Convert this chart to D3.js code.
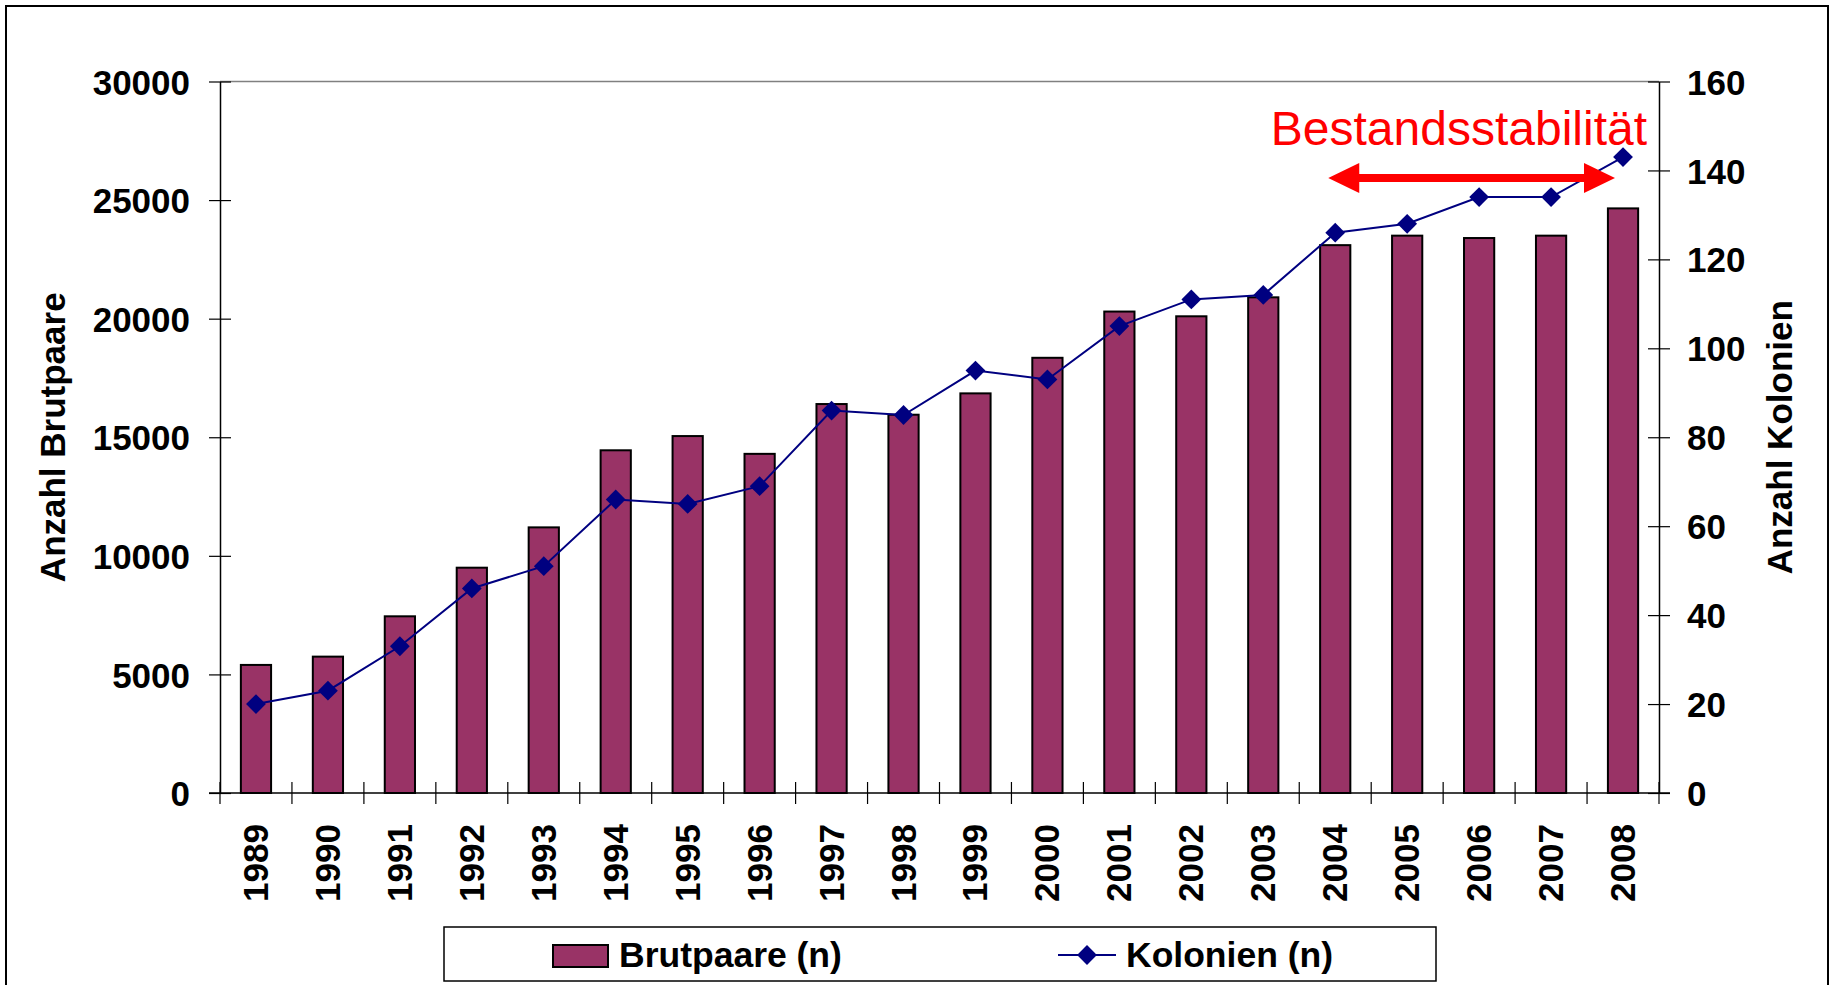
<!DOCTYPE html>
<html>
<head>
<meta charset="utf-8">
<script src="https://cdn.jsdelivr.net/npm/d3@7"></script>
<style>
  body { margin: 0; background: #fff; }
  text { font-family: "Liberation Sans", Arial, sans-serif; }
</style>
</head>
<body>
<svg id="chart" width="1833" height="985"></svg>
<script>
// data
const years = ["1989","1990","1991","1992","1993","1994","1995","1996","1997","1998",
               "1999","2000","2001","2002","2003","2004","2005","2006","2007","2008"];
const brutpaare = [5400, 5750, 7450, 9500, 11200, 14450, 15050, 14300, 16400, 15950,
                   16850, 18350, 20300, 20100, 20900, 23100, 23500, 23400, 23500, 24650];
const kolonien = [20, 23, 33, 46, 51, 66, 65, 69, 86, 85,
                  95, 93, 105, 111, 112, 126, 128, 134, 134, 143];
const leftTicks = [0, 5000, 10000, 15000, 20000, 25000, 30000];
const rightTicks = [0, 20, 40, 60, 80, 100, 120, 140, 160];
const stableFrom = "2004", stableTo = "2008";

const svg = d3.select('#chart');
const margin = { left: 220, top: 81.5, right: 174, bottom: 192 };
const width = 1833, height = 985;

// outer frame
svg.append('rect')
  .attr('x', 6).attr('y', 6)
  .attr('width', 1822).attr('height', 990)
  .attr('fill', 'none').attr('stroke', '#000').attr('stroke-width', 2);

const x = d3.scaleBand()
  .domain(years)
  .range([margin.left, width - margin.right]);

const yL = d3.scaleLinear()
  .domain([0, 30000])
  .range([height - margin.bottom, margin.top]);

const yR = d3.scaleLinear()
  .domain([0, 160])
  .range([height - margin.bottom, margin.top]);

// plot area top line
svg.append('line')
  .attr('x1', margin.left).attr('x2', width - margin.right)
  .attr('y1', margin.top).attr('y2', margin.top)
  .attr('stroke', '#808080').attr('stroke-width', 1.5);

// bars
const barW = x.bandwidth() * 0.42;
svg.append('g').selectAll('rect')
  .data(brutpaare)
  .join('rect')
    .attr('x', (d, i) => x(years[i]) + (x.bandwidth() - barW) / 2)
    .attr('y', d => yL(d))
    .attr('width', barW)
    .attr('height', d => yL(0) - yL(d))
    .attr('fill', '#993366')
    .attr('stroke', '#000')
    .attr('stroke-width', 2);

// axes
const tickStyle = g => {
  g.select('.domain').attr('stroke', '#000').attr('stroke-width', 1.5);
  g.selectAll('.tick line').attr('stroke', '#000').attr('stroke-width', 1.2);
  g.selectAll('text')
    .attr('font-size', 35).attr('font-weight', 'bold').attr('fill', '#000')
    .style('font-family', '"Liberation Sans", Arial, sans-serif');
};

const gl = svg.append('g')
  .attr('transform', `translate(${margin.left},0)`)
  .call(d3.axisLeft(yL).tickValues(leftTicks).tickFormat(d3.format('d')).tickSizeInner(11).tickSizeOuter(0).tickPadding(19))
  .call(tickStyle);
gl.selectAll('.tick line').attr('x2', 11).attr('x1', -11);

const gr = svg.append('g')
  .attr('transform', `translate(${width - margin.right},0)`)
  .call(d3.axisRight(yR).tickValues(rightTicks).tickSizeInner(11).tickSizeOuter(0).tickPadding(17))
  .call(tickStyle);
gr.selectAll('.tick line').attr('x1', -11).attr('x2', 11);
gl.selectAll('.tick text').attr('dy', '0.36em');
gr.selectAll('.tick text').attr('dy', '0.36em');

// x axis: line, ticks at band borders, rotated labels
const gx = svg.append('g').attr('transform', `translate(0,${height - margin.bottom})`);
gx.append('line')
  .attr('x1', margin.left - 11).attr('x2', width - margin.right + 11)
  .attr('stroke', '#000').attr('stroke-width', 1.5);
const borders = years.map(y => x(y)).concat([x(years[years.length - 1]) + x.bandwidth()]);
gx.selectAll('.xt')
  .data(borders)
  .join('line')
    .attr('class', 'xt')
    .attr('x1', d => d).attr('x2', d => d)
    .attr('y1', -11).attr('y2', 11)
    .attr('stroke', '#000').attr('stroke-width', 1.2);
gx.selectAll('.xl')
  .data(years)
  .join('text')
    .attr('class', 'xl')
    .attr('transform', d => `translate(${x(d) + x.bandwidth() / 2 + 12},31) rotate(-90)`)
    .attr('text-anchor', 'end')
    .attr('font-size', 35).attr('font-weight', 'bold')
    .text(d => d);

// line series
const line = d3.line()
  .x((d, i) => x(years[i]) + x.bandwidth() / 2)
  .y(d => yR(d));
svg.append('path')
  .datum(kolonien)
  .attr('d', line)
  .attr('fill', 'none')
  .attr('stroke', '#000080')
  .attr('stroke-width', 2);
const diamond = d3.symbol().type(d3.symbolDiamond2).size(250);
svg.append('g').selectAll('path')
  .data(kolonien)
  .join('path')
    .attr('transform', (d, i) => `translate(${x(years[i]) + x.bandwidth() / 2},${yR(d)})`)
    .attr('d', diamond)
    .attr('fill', '#000080');

// axis titles
svg.append('text')
  .attr('transform', `translate(${margin.left - 155},${(yL(0) + yL(30000)) / 2}) rotate(-90)`)
  .attr('text-anchor', 'middle')
  .attr('font-size', 35).attr('font-weight', 'bold')
  .text('Anzahl Brutpaare');
svg.append('text')
  .attr('transform', `translate(${width - margin.right + 133},${(yR(0) + yR(160)) / 2}) rotate(-90)`)
  .attr('text-anchor', 'middle')
  .attr('font-size', 35).attr('font-weight', 'bold')
  .text('Anzahl Kolonien');

// annotation: Bestandsstabilität with double arrow
const ax1 = x(stableFrom) + x.bandwidth() / 2 - 7;
const ax2 = x(stableTo) + x.bandwidth() / 2 - 8;
const ay = yR(138.3);
const head = 31, half = 15;
svg.append('line')
  .attr('x1', ax1 + head - 2).attr('x2', ax2 - head + 2)
  .attr('y1', ay).attr('y2', ay)
  .attr('stroke', '#ff0000').attr('stroke-width', 8);
svg.append('path')
  .attr('d', `M${ax1},${ay} L${ax1 + head},${ay - half} L${ax1 + head},${ay + half} Z`)
  .attr('fill', '#ff0000');
svg.append('path')
  .attr('d', `M${ax2},${ay} L${ax2 - head},${ay - half} L${ax2 - head},${ay + half} Z`)
  .attr('fill', '#ff0000');
svg.append('text')
  .attr('x', width - margin.right - 12)
  .attr('y', yR(145.7))
  .attr('text-anchor', 'end')
  .attr('font-size', 48)
  .attr('fill', '#ff0000')
  .text('Bestandsstabilität');

// legend
const lg = svg.append('g');
lg.append('rect')
  .attr('x', 444).attr('y', 927)
  .attr('width', 992).attr('height', 54)
  .attr('fill', '#fff').attr('stroke', '#000').attr('stroke-width', 1.5);
lg.append('rect')
  .attr('x', 553).attr('y', 945)
  .attr('width', 55).attr('height', 22)
  .attr('fill', '#993366').attr('stroke', '#000').attr('stroke-width', 2);
lg.append('text')
  .attr('x', 619).attr('y', 967)
  .attr('font-size', 35.5).attr('font-weight', 'bold')
  .text('Brutpaare (n)');
lg.append('line')
  .attr('x1', 1058).attr('x2', 1116)
  .attr('y1', 955).attr('y2', 955)
  .attr('stroke', '#000080').attr('stroke-width', 2);
lg.append('path')
  .attr('transform', 'translate(1087,955)')
  .attr('d', diamond)
  .attr('fill', '#000080');
lg.append('text')
  .attr('x', 1126).attr('y', 967)
  .attr('font-size', 35.5).attr('font-weight', 'bold')
  .text('Kolonien (n)');
</script>
</body>
</html>
